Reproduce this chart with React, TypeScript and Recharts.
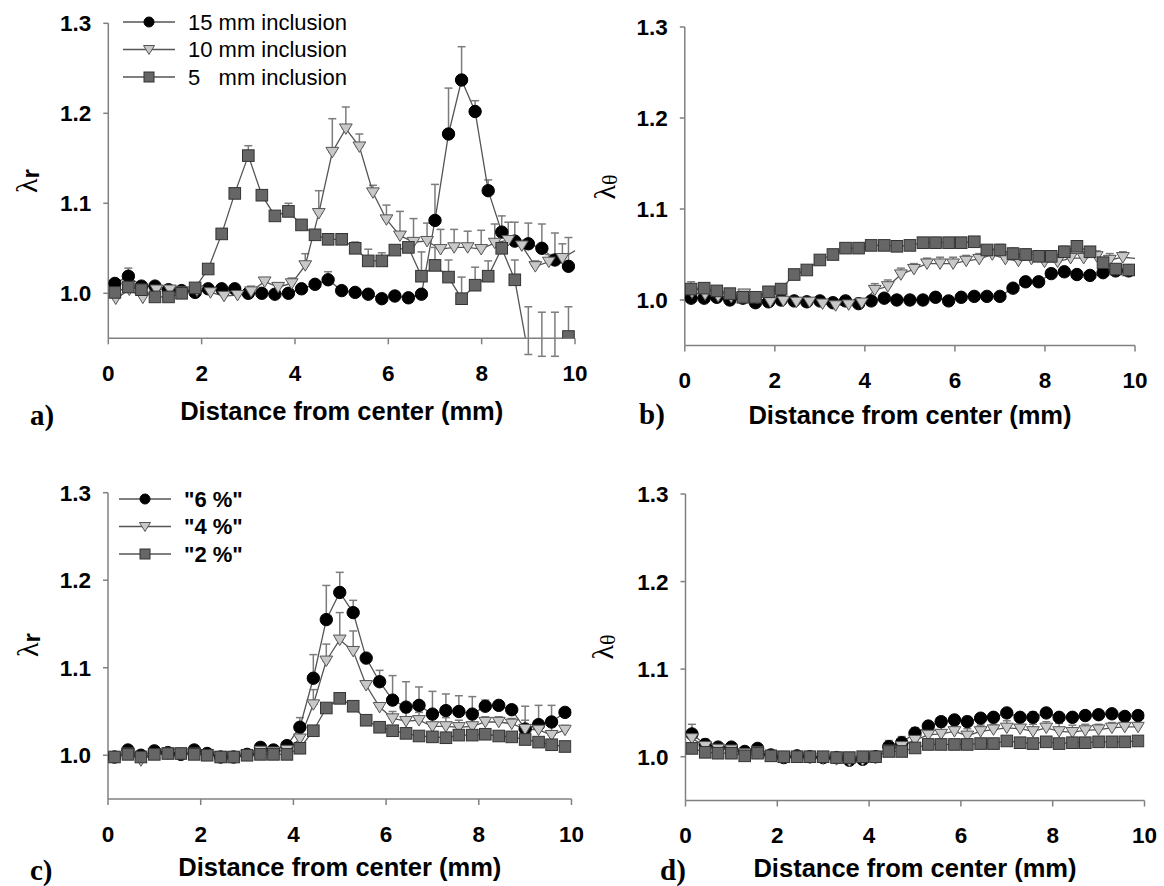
import { ErrorBar, Legend, Line, LineChart, XAxis, YAxis } from 'recharts'

// distance from center (mm) for circles / squares, triangles sit slightly to the right in a) and b)
const X_MAIN = [0.14, 0.43, 0.71, 1.0, 1.29, 1.57, 1.86, 2.14, 2.43, 2.71, 3.0, 3.29, 3.57, 3.86, 4.14, 4.43, 4.71, 5.0, 5.29, 5.57, 5.86, 6.14, 6.43, 6.71, 7.0, 7.29, 7.57, 7.86, 8.14, 8.43, 8.71, 9.0, 9.29, 9.57, 9.86]
const X_TRI = [0.16, 0.45, 0.74, 1.03, 1.32, 1.61, 1.9, 2.19, 2.48, 2.77, 3.06, 3.35, 3.64, 3.93, 4.22, 4.51, 4.8, 5.09, 5.38, 5.67, 5.96, 6.25, 6.54, 6.83, 7.12, 7.41, 7.7, 7.99, 8.28, 8.57, 8.86, 9.15, 9.44, 9.73, 10.15]

const X_TICKS = [0, 2, 4, 6, 8, 10]
const Y_TICKS = [1.0, 1.1, 1.2, 1.3]

// a) lambda_r, inclusion size
const A_15 = [1.011, 1.019, 1.008, 1.008, 1.004, 1.003, 1.001, 1.005, 1.005, 1.005, 1.0, 1.0, 0.999, 1.0, 1.005, 1.01, 1.015, 1.003, 1.001, 0.999, 0.994, 0.997, 0.995, 0.999, 1.081, 1.177, 1.237, 1.202, 1.114, 1.068, 1.058, 1.055, 1.05, 1.037, 1.03]
const A_15_ERR = [0, 0.009, 0, 0, 0, 0, 0, 0, 0, 0, 0, 0, 0, 0, 0, 0.004, 0.009, 0, 0, 0, 0.003, 0.004, 0.004, 0, 0.04, 0.051, 0.037, 0.012, 0.012, 0.018, 0.021, 0.023, 0.027, 0.03, 0.032]
const A_10 = [0.994, 1.004, 0.995, 1.004, 1.004, 1.002, 1.003, 1.001, 0.997, 0.998, 1.002, 1.013, 1.007, 1.011, 1.031, 1.089, 1.157, 1.183, 1.163, 1.112, 1.082, 1.064, 1.057, 1.058, 1.049, 1.051, 1.051, 1.049, 1.056, 1.059, 1.053, 1.03, 1.035, 1.039, 1.052]
const A_10_ERR = [0, 0, 0, 0, 0, 0, 0, 0, 0, 0, 0.006, 0.003, 0.004, 0.006, 0.013, 0.025, 0.037, 0.024, 0.014, 0.008, 0.016, 0.027, 0.026, 0.02, 0.022, 0.02, 0.018, 0.021, 0.021, 0.02, 0.006, 0.006, 0.008, 0.016, 0]
const A_5 = [1.001, 1.007, 1.004, 0.996, 0.996, 1.0, 1.006, 1.027, 1.066, 1.111, 1.153, 1.109, 1.086, 1.091, 1.076, 1.065, 1.06, 1.06, 1.05, 1.036, 1.036, 1.048, 1.051, 1.019, 1.031, 1.018, 0.994, 1.009, 1.019, 1.05, 1.015, 0.932, 0.93, 0.93, 0.952]
const A_5_ERR = [0, 0.003, 0, 0, 0, 0, 0, 0, 0.004, 0.004, 0.011, 0.005, 0, 0.009, 0, 0, 0, 0, 0.007, 0.013, 0.009, 0, 0, 0.027, 0.02, 0.019, 0.024, 0.02, 0.017, 0.005, 0.022, 0.053, 0.049, 0.049, 0.033]

// b) lambda_theta, inclusion size
const B_15 = [1.002, 1.002, 1.003, 1.0, 1.002, 0.997, 0.998, 1.0, 0.999, 0.998, 0.999, 0.997, 0.999, 0.996, 0.999, 1.002, 1.0, 1.0, 1.0, 1.003, 0.999, 1.003, 1.004, 1.004, 1.004, 1.013, 1.02, 1.02, 1.029, 1.031, 1.028, 1.027, 1.03, 1.032, 1.032]
const B_15_ERR = [0, 0, 0, 0, 0, 0, 0, 0, 0, 0, 0, 0, 0, 0, 0, 0, 0, 0, 0, 0, 0, 0, 0, 0, 0, 0, 0.004, 0.005, 0.004, 0, 0, 0.004, 0.003, 0, 0]
const B_10 = [1.008, 1.006, 1.004, 1.003, 1.007, 1.002, 0.998, 0.999, 0.998, 0.998, 0.996, 0.994, 0.995, 0.997, 1.011, 1.015, 1.028, 1.034, 1.04, 1.04, 1.04, 1.043, 1.045, 1.05, 1.045, 1.043, 1.045, 1.042, 1.042, 1.046, 1.046, 1.048, 1.044, 1.047, 1.045]
const B_10_ERR = [0, 0, 0, 0, 0, 0, 0, 0, 0, 0, 0, 0, 0, 0, 0.007, 0.007, 0.007, 0.006, 0.006, 0.007, 0.007, 0.006, 0.006, 0.006, 0.007, 0.007, 0.008, 0.007, 0.007, 0.008, 0.007, 0.006, 0.007, 0.006, 0]
const B_5 = [1.012, 1.013, 1.01, 1.007, 1.003, 1.003, 1.009, 1.012, 1.028, 1.033, 1.044, 1.05, 1.057, 1.057, 1.06, 1.06, 1.059, 1.06, 1.063, 1.063, 1.063, 1.063, 1.064, 1.055, 1.055, 1.051, 1.05, 1.048, 1.048, 1.053, 1.059, 1.053, 1.041, 1.034, 1.033]
const B_5_ERR = [0.008, 0, 0, 0, 0, 0, 0, 0, 0, 0, 0, 0, 0, 0, 0, 0, 0, 0, 0, 0, 0, 0, 0, 0.004, 0.006, 0.006, 0.006, 0.006, 0.006, 0.006, 0.006, 0.003, 0, 0, 0]

// c) lambda_r, concentration
const C_6 = [0.998, 1.006, 1.0, 1.005, 1.003, 1.001, 1.006, 1.002, 0.998, 0.998, 1.001, 1.009, 1.006, 1.011, 1.032, 1.088, 1.155, 1.186, 1.163, 1.111, 1.084, 1.063, 1.055, 1.057, 1.047, 1.051, 1.05, 1.047, 1.056, 1.057, 1.052, 1.03, 1.035, 1.038, 1.049]
const C_6_ERR = [0, 0, 0, 0, 0, 0, 0, 0, 0, 0, 0, 0.005, 0, 0.005, 0.011, 0.027, 0.039, 0.023, 0.014, 0, 0.013, 0.028, 0.029, 0.021, 0.026, 0.019, 0.018, 0.02, 0.007, 0.005, 0, 0.026, 0.022, 0.019, 0.005]
const C_4 = [0.998, 1.003, 0.994, 1.002, 1.002, 1.002, 1.003, 1.001, 0.999, 0.998, 1.0, 1.005, 1.004, 1.006, 1.019, 1.058, 1.108, 1.132, 1.119, 1.08, 1.055, 1.042, 1.039, 1.04, 1.033, 1.033, 1.032, 1.033, 1.038, 1.038, 1.036, 1.03, 1.029, 1.023, 1.029]
const C_4_ERR = [0, 0, 0, 0, 0, 0, 0, 0, 0, 0, 0, 0, 0, 0, 0.008, 0.017, 0.019, 0.031, 0.023, 0.005, 0.005, 0.008, 0.01, 0.009, 0.01, 0.01, 0.008, 0.009, 0.006, 0.006, 0.006, 0.01, 0.01, 0.01, 0.005]
const C_2 = [0.998, 1.001, 0.998, 1.001, 1.002, 1.002, 1.001, 1.0, 0.998, 0.998, 1.0, 1.001, 1.001, 1.001, 1.008, 1.028, 1.054, 1.065, 1.056, 1.04, 1.032, 1.028, 1.025, 1.022, 1.021, 1.02, 1.023, 1.023, 1.024, 1.022, 1.021, 1.018, 1.015, 1.012, 1.01]
const C_2_ERR = [0, 0, 0, 0, 0, 0, 0, 0, 0, 0, 0, 0, 0, 0, 0, 0, 0.004, 0.004, 0.003, 0, 0, 0, 0, 0, 0, 0, 0, 0, 0, 0, 0, 0, 0, 0, 0]

// d) lambda_theta, concentration
const D_6 = [1.026, 1.014, 1.011, 1.011, 1.006, 1.0095, 1.002, 0.999, 1.001, 1.0, 0.999, 0.999, 0.996, 0.997, 1.0, 1.0115, 1.016, 1.027, 1.035, 1.04, 1.042, 1.04, 1.044, 1.045, 1.05, 1.045, 1.045, 1.05, 1.045, 1.045, 1.047, 1.048, 1.049, 1.046, 1.047]
const D_6_ERR = [0.011, 0.006, 0, 0, 0, 0, 0, 0, 0, 0, 0, 0, 0, 0, 0, 0.007, 0.007, 0.006, 0, 0.004, 0, 0.006, 0, 0, 0, 0.005, 0.006, 0, 0.005, 0.005, 0.005, 0.004, 0.004, 0.004, 0.004]
const D_4 = [1.021, 1.012, 1.009, 1.008, 1.004, 1.006, 1.001, 0.999, 1.0, 0.999, 0.998, 0.997, 0.995, 0.996, 0.999, 1.008, 1.012, 1.019, 1.025, 1.026, 1.029, 1.024, 1.029, 1.031, 1.033, 1.032, 1.029, 1.033, 1.029, 1.028, 1.03, 1.031, 1.033, 1.034, 1.034]
const D_4_ERR = [0, 0, 0, 0, 0, 0, 0, 0, 0, 0, 0, 0, 0, 0, 0, 0, 0, 0.007, 0.006, 0.008, 0.006, 0.008, 0.007, 0.006, 0.008, 0.009, 0.008, 0.007, 0.009, 0.008, 0.007, 0.006, 0.006, 0.006, 0.005]
const D_2 = [1.0095, 1.005, 1.004, 1.004, 1.001, 1.004, 1.001, 1.0, 1.0, 1.0, 1.0, 0.999, 0.999, 1.0, 1.0, 1.006, 1.006, 1.01, 1.014, 1.014, 1.014, 1.014, 1.015, 1.015, 1.018, 1.016, 1.015, 1.017, 1.015, 1.016, 1.016, 1.017, 1.017, 1.017, 1.018]
const D_2_ERR = [0, 0, 0, 0, 0, 0, 0, 0, 0, 0, 0, 0, 0, 0, 0, 0, 0, 0, 0, 0, 0, 0, 0, 0, 0.003, 0.003, 0, 0.003, 0, 0.003, 0, 0.003, 0.003, 0.003, 0.003]

const SANS = '"Liberation Sans", Arial, sans-serif'
const SERIF = '"Liberation Serif", "Times New Roman", serif'
const AXIS_STROKE = { stroke: '#808080', strokeWidth: 1.5 }
const TICK = { fontSize: 22.5, fontWeight: 700, fill: '#000', fontFamily: SANS }
const LINE_COLOR = '#555'
const Y_W = 60
const X_H = 80

type Kind = 'circle' | 'triangle' | 'square'

const FILLS: Record<Kind, { fill: string; stroke: string }> = {
  circle: { fill: '#000', stroke: '#000' },
  triangle: { fill: '#c8c8c8', stroke: '#555' },
  square: { fill: '#666', stroke: '#333' },
}

function Marker({ kind, cx, cy, s }: { kind: Kind; cx: number; cy: number; s: number }) {
  const st = FILLS[kind]
  if (kind === 'circle') return <circle cx={cx} cy={cy} r={s} fill={st.fill} stroke={st.stroke} />
  if (kind === 'square')
    return <rect x={cx - s} y={cy - s} width={s * 2} height={s * 2} fill={st.fill} stroke={st.stroke} strokeWidth={1} />
  const h = s * 1.1
  return (
    <path
      d={`M${cx - h},${cy - s * 0.8}L${cx + h},${cy - s * 0.8}L${cx},${cy + s}Z`}
      fill={st.fill}
      stroke={st.stroke}
      strokeWidth={1}
    />
  )
}

const toRows = (xs: number[], ys: number[], errs: number[]) =>
  xs.map((x, i) => ({ x, y: ys[i], e: errs[i] ? [0, errs[i]] : undefined }))

interface Series {
  name: string
  kind: Kind
  rows: { x: number; y: number; e?: number[] }[]
}

interface Box {
  left: number
  top: number
  width: number
  height: number
}

interface Plot {
  left: number
  right: number
  top: number
  bottom: number
}

interface LegendCfg {
  left: number
  top: number
  bold: boolean
  items: { label: string; kind: Kind }[]
}

function LegendBox({ cfg }: { cfg: LegendCfg }) {
  return (
    <svg width={330} height={86} style={{ display: 'block' }}>
      {cfg.items.map((it, i) => {
        const y = 11 + i * 27.5
        return (
          <g key={it.label}>
            <line x1={0} x2={52} y1={y} y2={y} stroke={LINE_COLOR} strokeWidth={1.3} />
            <Marker kind={it.kind} cx={26} cy={y} s={5} />
            <text
              x={65}
              y={y}
              dominantBaseline="central"
              fontSize={22}
              fontWeight={cfg.bold ? 700 : 400}
              fontFamily={SANS}
              fill="#000"
              style={{ whiteSpace: 'pre' }}
            >
              {it.label}
            </text>
          </g>
        )
      })}
    </svg>
  )
}

function Panel({ box, plot, series, legend }: { box: Box; plot: Plot; series: Series[]; legend?: LegendCfg }) {
  const margin = {
    top: plot.top - box.top,
    left: plot.left - box.left - Y_W,
    right: box.left + box.width - plot.right,
    bottom: box.top + box.height - plot.bottom - X_H,
  }
  return (
    <div style={{ position: 'absolute', left: box.left, top: box.top }}>
      <LineChart width={box.width} height={box.height} margin={margin}>
        <XAxis
          type="number"
          dataKey="x"
          domain={[0, 10]}
          ticks={X_TICKS}
          interval={0}
          allowDataOverflow
          height={X_H}
          tickSize={6}
          tickMargin={21}
          axisLine={AXIS_STROKE}
          tickLine={AXIS_STROKE}
          tick={TICK}
        />
        <YAxis
          type="number"
          domain={[0.95, 1.3]}
          ticks={Y_TICKS}
          interval={0}
          allowDataOverflow
          width={Y_W}
          tickSize={5}
          tickMargin={12}
          tickFormatter={(v: number) => v.toFixed(1)}
          axisLine={AXIS_STROKE}
          tickLine={AXIS_STROKE}
          tick={TICK}
        />
        {series.map((s) => (
          <Line
            key={s.name}
            name={s.name}
            data={s.rows}
            dataKey="y"
            type="linear"
            stroke={LINE_COLOR}
            strokeWidth={1.3}
            isAnimationActive={false}
            activeDot={false}
            dot={(p: any) => <Marker key={`${s.kind}-${p.index}`} kind={s.kind} cx={p.cx} cy={p.cy} s={s.kind === 'circle' ? 6.2 : 5.8} />}
          >
            <ErrorBar dataKey="e" direction="y" width={4} strokeWidth={1.5} stroke="#7c7c7c" isAnimationActive={false} />
          </Line>
        ))}
        {legend && (
          <Legend
            layout="vertical"
            align="center"
            verticalAlign="middle"
            wrapperStyle={{ left: legend.left, top: legend.top, width: 330, height: 86 }}
            content={() => <LegendBox cfg={legend} />}
          />
        )}
      </LineChart>
    </div>
  )
}

const PANELS: { box: Box; plot: Plot; series: Series[]; legend?: LegendCfg }[] = [
  {
    box: { left: 0, top: 0, width: 600, height: 443 },
    plot: { left: 108.3, right: 575, top: 23.3, bottom: 338.3 },
    series: [
      { name: '15 mm inclusion', kind: 'circle', rows: toRows(X_MAIN, A_15, A_15_ERR) },
      { name: '10 mm inclusion', kind: 'triangle', rows: toRows(X_TRI, A_10, A_10_ERR) },
      { name: '5 mm inclusion', kind: 'square', rows: toRows(X_MAIN, A_5, A_5_ERR) },
    ],
    legend: {
      left: 123.3,
      top: 10.7,
      bold: false,
      items: [
        { label: '15 mm inclusion', kind: 'circle' },
        { label: '10 mm inclusion', kind: 'triangle' },
        { label: '5   mm inclusion', kind: 'square' },
      ],
    },
  },
  {
    box: { left: 580, top: 0, width: 584, height: 443 },
    plot: { left: 684.8, right: 1135, top: 27, bottom: 345.5 },
    series: [
      { name: '15 mm', kind: 'circle', rows: toRows(X_MAIN, B_15, B_15_ERR) },
      { name: '10 mm', kind: 'triangle', rows: toRows(X_TRI, B_10, B_10_ERR) },
      { name: '5 mm', kind: 'square', rows: toRows(X_MAIN, B_5, B_5_ERR) },
    ],
  },
  {
    box: { left: 0, top: 443, width: 600, height: 443 },
    plot: { left: 108, right: 571.5, top: 492.7, bottom: 799 },
    series: [
      { name: '6 %', kind: 'circle', rows: toRows(X_MAIN, C_6, C_6_ERR) },
      { name: '4 %', kind: 'triangle', rows: toRows(X_MAIN, C_4, C_4_ERR) },
      { name: '2 %', kind: 'square', rows: toRows(X_MAIN, C_2, C_2_ERR) },
    ],
    legend: {
      left: 118.5,
      top: 45.3,
      bold: true,
      items: [
        { label: '"6 %"', kind: 'circle' },
        { label: '"4 %"', kind: 'triangle' },
        { label: '"2 %"', kind: 'square' },
      ],
    },
  },
  {
    box: { left: 580, top: 443, width: 584, height: 443 },
    plot: { left: 685.5, right: 1144.5, top: 494, bottom: 800.5 },
    series: [
      { name: '6 %', kind: 'circle', rows: toRows(X_MAIN, D_6, D_6_ERR) },
      { name: '4 %', kind: 'triangle', rows: toRows(X_MAIN, D_4, D_4_ERR) },
      { name: '2 %', kind: 'square', rows: toRows(X_MAIN, D_2, D_2_ERR) },
    ],
  },
]

// axis titles, y labels and panel letters
const TITLES = [
  { x: 341.7, y: 420 },
  { x: 910, y: 424 },
  { x: 339.8, y: 876 },
  { x: 915, y: 877 },
]
const Y_LABELS = [
  { x: 26, y: 181, sub: 'r' },
  { x: 604, y: 187, sub: 'θ' },
  { x: 27, y: 645, sub: 'r' },
  { x: 602, y: 647, sub: 'θ' },
]
const LETTERS = [
  { x: 30, y: 425, t: 'a)' },
  { x: 639, y: 424, t: 'b)' },
  { x: 30, y: 880, t: 'c)' },
  { x: 660, y: 880, t: 'd)' },
]

export default function App() {
  return (
    <div style={{ position: 'absolute', left: 0, top: 0, width: 1164, height: 886, background: '#fff', overflow: 'hidden' }}>
      {PANELS.map((p, i) => (
        <Panel key={i} {...p} />
      ))}
      <svg width={1164} height={886} style={{ position: 'absolute', left: 0, top: 0, pointerEvents: 'none' }}>
        {TITLES.map((t, i) => (
          <text key={i} x={t.x} y={t.y} textAnchor="middle" fontSize={25.5} fontWeight={700} fontFamily={SANS} fill="#000">
            Distance from center (mm)
          </text>
        ))}
        {Y_LABELS.map((l, i) => (
          <text key={i} transform={`translate(${l.x},${l.y}) rotate(-90)`} textAnchor="middle" dominantBaseline="central" fill="#000">
            <tspan fontFamily={SERIF} fontSize={30}>λ</tspan>
            {l.sub === 'r' ? (
              <tspan fontFamily={SANS} fontWeight={700} fontSize={24} dy={4}>r</tspan>
            ) : (
              <tspan fontFamily={SERIF} fontSize={22} dy={5}>θ</tspan>
            )}
          </text>
        ))}
        {LETTERS.map((l, i) => (
          <text key={i} x={l.x} y={l.y} fontSize={29} fontWeight={700} fontFamily={SERIF} fill="#000">
            {l.t}
          </text>
        ))}
      </svg>
    </div>
  )
}
